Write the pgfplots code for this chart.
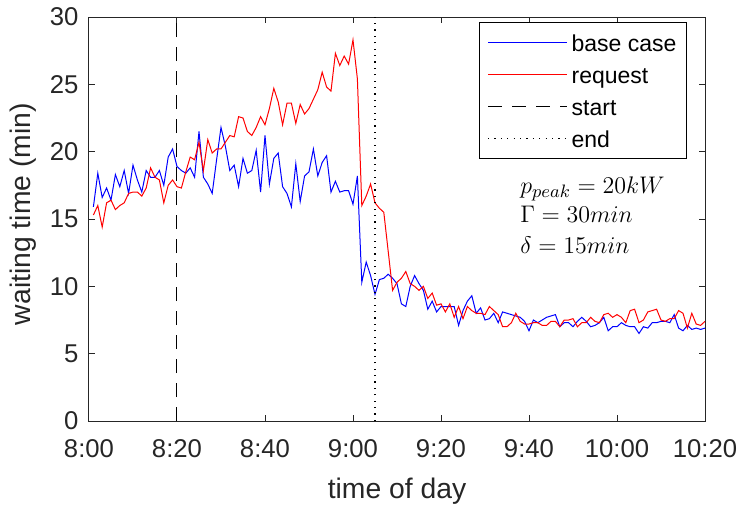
\documentclass[border=0pt]{standalone}
\usepackage{fontspec}
\setmainfont{Liberation Sans}
\usepackage{pgfplots}
\pgfplotsset{compat=1.18}
\usepackage{pgfplotstable}
\definecolor{axgray}{rgb}{0.15,0.15,0.15}

\pgfplotstableread{
m v
1 15.9
2 18.4
3 16.6
4 17.3
5 16.4
6 18.3
7 17.4
8 18.6
9 16.9
10 19.0
11 17.9
12 17.0
13 18.6
14 18.1
15 18.1
16 18.6
17 17.5
18 19.6
19 20.2
20 18.9
21 18.6
22 18.4
23 18.8
24 18.1
25 21.5
26 18.1
27 17.6
28 16.9
29 19.4
30 21.8
31 20.4
32 18.6
33 19.0
34 17.4
35 19.5
36 18.4
37 18.6
38 20.1
39 17.0
40 21.2
41 17.6
42 19.5
43 19.9
44 17.4
45 16.9
46 15.9
47 19.1
48 16.3
49 18.2
50 18.5
51 20.2
52 18.2
53 19.2
54 19.7
55 17.0
56 17.8
57 17.0
58 17.1
59 17.1
60 16.1
61 18.2
62 10.3
63 11.8
64 10.8
65 9.4
66 10.5
67 10.6
68 10.9
69 10.6
70 10.2
71 8.7
72 8.5
73 10.0
74 10.8
75 10.2
76 9.7
77 8.3
78 8.9
79 8.1
80 8.5
81 8.5
82 8.5
83 8.5
84 7.1
85 8.2
86 8.9
87 9.3
88 8.0
89 8.4
90 7.5
91 7.6
92 8.0
93 7.3
94 8.1
95 8.0
96 7.9
97 7.8
98 7.7
99 7.4
100 6.7
101 7.5
102 7.3
103 7.5
104 7.7
105 7.8
106 7.9
107 7.0
108 7.3
109 7.3
110 7.0
111 7.4
112 7.7
113 7.4
114 7.0
115 7.1
116 7.3
117 7.7
118 6.7
119 7.0
120 7.0
121 7.3
122 7.1
123 7.0
124 7.0
125 6.5
126 7.0
127 6.9
128 7.3
129 7.3
130 7.4
131 7.4
132 7.3
133 7.9
134 6.9
135 6.7
136 7.1
137 6.8
138 6.9
139 6.8
140 6.9
}\basecase

\pgfplotstableread{
m v
1 15.3
2 16.0
3 14.4
4 16.2
5 16.4
6 15.7
7 16.0
8 16.2
9 16.9
10 17.0
11 17.0
12 16.7
13 17.3
14 18.8
15 18.1
16 17.9
17 16.2
18 17.5
19 17.9
20 17.4
21 17.3
22 18.5
23 19.6
24 19.4
25 20.7
26 18.6
27 20.9
28 19.9
29 20.2
30 20.2
31 20.7
32 21.2
33 21.1
34 22.6
35 22.5
36 21.5
37 21.2
38 21.8
39 22.6
40 22.0
41 23.2
42 24.7
43 23.7
44 22.0
45 23.6
46 23.6
47 22.1
48 23.5
49 22.8
50 23.2
51 23.9
52 24.6
53 25.9
54 24.8
55 24.5
56 27.3
57 26.4
58 27.1
59 26.5
60 28.3
61 25.4
62 16.0
63 16.7
64 17.6
65 16.2
66 15.8
67 15.5
68 12.6
69 9.7
70 10.3
71 10.6
72 11.1
73 10.2
74 10.0
75 9.7
76 10.0
77 9.1
78 9.5
79 8.6
80 8.7
81 8.1
82 8.7
83 7.7
84 8.5
85 7.6
86 8.5
87 8.2
88 8.0
89 8.0
90 7.9
91 8.5
92 8.2
93 7.9
94 7.0
95 7.0
96 7.3
97 8.0
98 7.4
99 7.2
100 7.2
101 7.3
102 7.3
103 7.1
104 7.1
105 7.4
106 7.4
107 7.0
108 7.5
109 7.5
110 7.6
111 7.0
112 7.3
113 7.3
114 7.7
115 7.4
116 7.3
117 7.9
118 8.0
119 7.7
120 7.9
121 7.7
122 7.3
123 8.2
124 8.3
125 7.3
126 7.5
127 8.1
128 8.2
129 8.3
130 7.5
131 7.4
132 7.6
133 7.6
134 8.2
135 8.0
136 6.9
137 8.0
138 7.2
139 7.1
140 7.4
}\request

\begin{document}
\begin{tikzpicture}
\useasboundingbox (-44.5pt,-44.5pt) rectangle (325pt,210.5pt);
\begin{axis}[
  scale only axis,
  width=308pt, height=202pt,
  at={(0,0)}, anchor=south west,
  xmin=0, xmax=140, ymin=0, ymax=30,
  xtick={0,20,40,60,80,100,120,140},
  xticklabels={8:00,8:20,8:40,9:00,9:20,9:40,10:00,10:20},
  ytick={0,5,10,15,20,25,30},
  tick align=inside,
  xtick pos=both, ytick pos=both,
  xticklabel pos=lower, yticklabel pos=left,
  major tick length=3pt,
  axis line style={axgray, line width=0.5pt},
  every tick/.style={axgray, line width=0.5pt},
  /pgf/number format/assume math mode=true,
  ticklabel style={font=\fontsize{12.85}{15}\selectfont, text=axgray},
  xticklabel style={yshift=-5.5pt},
  yticklabel style={xshift=-1.7pt},
  xlabel={time of day},
  ylabel={waiting time (min)},
  label style={font=\fontsize{14.15}{17}\selectfont, text=axgray},
  xlabel style={at={(rel axis cs:0.5,0)}, anchor=north, yshift=-28.5pt, inner sep=0pt},
  ylabel style={at={(rel axis cs:-0.1282,0.512)}, anchor=north, inner sep=0pt},
  legend style={at={(0.9708,0.9876)}, anchor=north east, draw=black, line width=0.5pt,
    fill=white, inner xsep=4pt, inner ysep=3.5pt, row sep=3pt, column sep=1pt,
    font=\fontsize{11.5}{13}\selectfont,
    nodes={inner sep=1pt, text height=10pt, text depth=1pt}},
  legend cell align=left,
  legend image code/.code={\draw[#1] (0pt,0pt) -- (39.5pt,0pt);},
]
\addplot[blue, line width=0.5pt] table[x=m, y=v] {\basecase};
\addlegendentry{base case}
\addplot[red, line width=0.5pt] table[x=m, y=v] {\request};
\addlegendentry{request}
\addplot[black, line width=0.5pt, dash pattern=on 7pt off 5pt] coordinates {(20,0) (20,30)};
\addlegendentry{start}
\addplot[black, line width=0.6pt, dash pattern=on 0.6pt off 2.6pt] coordinates {(65,0) (65,30)};
\addlegendentry{end}
\node[anchor=base west, inner sep=0pt, font=\fontsize{12.85}{15}\selectfont] at (axis cs:97.95,16.9) {$p_{peak} = 20kW$};
\node[anchor=base west, inner sep=0pt, font=\fontsize{12.85}{15}\selectfont] at (axis cs:97.95,14.72) {$\Gamma = 30min$};
\node[anchor=base west, inner sep=0pt, font=\fontsize{12.85}{15}\selectfont] at (axis cs:97.95,12.45) {$\delta = 15min$};
\end{axis}
\end{tikzpicture}
\end{document}
